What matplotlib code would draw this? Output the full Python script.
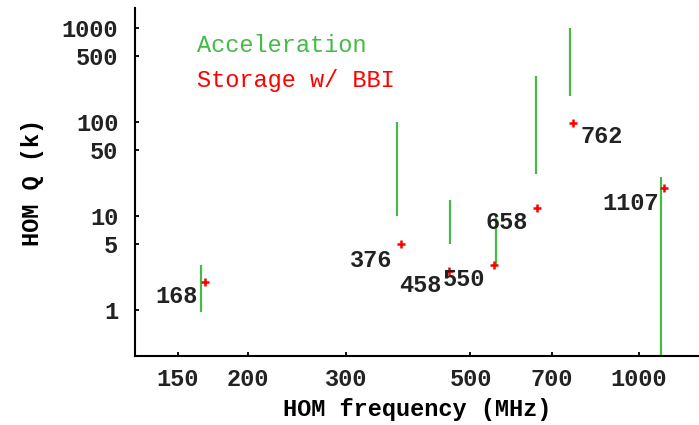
import matplotlib
matplotlib.use("Agg")
import matplotlib.pyplot as plt

# Acceleration mode ranges: frequency (MHz), Q low, Q high (k)
acc_freq = [165, 369, 459, 555, 654, 753, 1095]
acc_q_low = [0.95, 10, 5, 3, 28, 190, 0.01]
acc_q_high = [3, 100, 15, 10, 310, 1000, 26]

# Storage with BBI modes: frequency (MHz) and Q (k)
sto_freq = [168, 376, 458, 550, 658, 762, 1107]
sto_q = [2, 5, 2.6, 3, 12.3, 99, 19.7]
sto_labels = ["168", "376", "458", "550", "658", "762", "1107"]

x_ticks = [150, 200, 300, 500, 700, 1000]
y_ticks = [1, 5, 10, 50, 100, 500, 1000]

GREEN = "#44bb44"
RED = "#ff0000"
FONT = "Liberation Mono"

W, H, DPI = 699, 425, 100
fig = plt.figure(figsize=(W / DPI, H / DPI), dpi=DPI)
ax = fig.add_axes([135 / W, 1 - 356 / H, 1 - 135 / W, (356 - 8) / H])

ax.set_xscale("log")
ax.set_yscale("log")
ax.set_xlim(125.7, 1281)
ax.set_ylim(0.326, 1633)

ax.vlines(acc_freq, acc_q_low, acc_q_high, colors=GREEN, linewidth=1.6)
ax.plot(sto_freq, sto_q, linestyle="none", marker="+", color=RED,
        markersize=5.5, markeredgewidth=1.8)

# label offsets in pixels (dx, dy, horizontal alignment)
offsets = {
    "168": (-8, -15, "right"),
    "376": (-9, -16, "right"),
    "458": (-8, -14, "right"),
    "550": (-8, -14, "right"),
    "658": (-9, -15, "right"),
    "762": (8, -14, "left"),
    "1107": (-5, -15, "right"),
}
for f, q, lab in zip(sto_freq, sto_q, sto_labels):
    dx, dy, ha = offsets[lab]
    ax.annotate(lab, (f, q), xytext=(dx, dy), textcoords="offset pixels",
                ha=ha, va="center", fontsize=17, family=FONT,
                fontweight="bold", color="#222222")

ax.minorticks_off()
ax.set_xticks(x_ticks)
ax.set_xticklabels([str(t) for t in x_ticks])
ax.set_yticks(y_ticks)
ax.set_yticklabels([str(t) for t in y_ticks])
ax.tick_params(direction="in", length=3, width=1.3, labelsize=17,
               colors="black")
ax.tick_params(axis="x", pad=9)
ax.tick_params(axis="y", pad=12)
for lab in ax.get_xticklabels() + ax.get_yticklabels():
    lab.set_family(FONT)
    lab.set_fontweight("bold")
    lab.set_color("#222222")

for side in ("top", "right"):
    ax.spines[side].set_visible(False)
for side in ("left", "bottom"):
    ax.spines[side].set_linewidth(1.5)

ax.set_xlabel("HOM frequency (MHz)", family=FONT, fontsize=17,
              fontweight="bold", labelpad=5)
ax.set_ylabel("HOM Q (k)", family=FONT, fontsize=17,
              fontweight="bold", labelpad=13)

fig.text(197 / W, 1 - 45 / H, "Acceleration", color=GREEN, family=FONT,
         fontsize=17, va="center", ha="left")
fig.text(197 / W, 1 - 80 / H, "Storage w/ BBI", color=RED, family=FONT,
         fontsize=17, va="center", ha="left")

fig.savefig("out.png", dpi=DPI)
